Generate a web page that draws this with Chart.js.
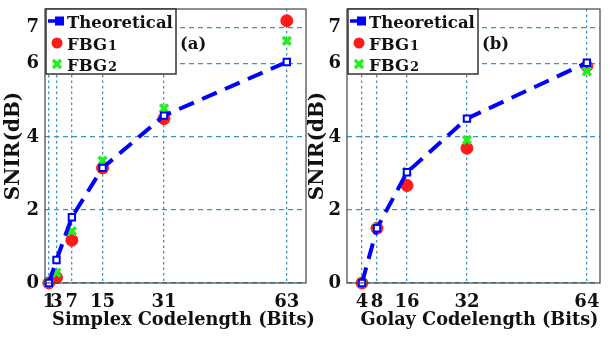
<!DOCTYPE html>
<html><head><meta charset="utf-8">
<script src="https://cdn.jsdelivr.net/npm/chart.js@4.4.0/dist/chart.umd.min.js"></script>
<style>
html,body{margin:0;padding:0;background:#fff;width:609px;height:337px;overflow:hidden;}
#wa{position:absolute;left:0;top:0;width:330px;height:337px;}
#wb{position:absolute;left:300px;top:0;width:309px;height:337px;}
canvas{display:block;}
</style></head><body>
<div id="wa"><canvas id="ca" width="330" height="337"></canvas></div>
<div id="wb"><canvas id="cb" width="309" height="337"></canvas></div>
<script>
// ---- data ----
const simplexLengths = [1, 3, 7, 15, 31, 63];
const simplexTheoretical = [0, 0.63, 1.8, 3.15, 4.58, 6.05];
const simplexFBG1 = [0, 0.15, 1.17, 3.15, 4.5, 7.18];
const simplexFBG2 = [0, 0.28, 1.42, 3.35, 4.78, 6.63];

const golayLengths = [4, 8, 16, 32, 64];
const golayTheoretical = [0, 1.5, 3.03, 4.5, 6.03];
const golayFBG1 = [0, 1.5, 2.67, 3.69, 5.94];
const golayFBG2 = [0, 1.52, 3.05, 3.92, 5.79];

const yTicks = [0, 2, 4, 6, 7];
const seriesNames = ['Theoretical', 'FBG', 'FBG'];
const seriesSub = ['', '1', '2'];

// ---- styles ----
const FONT = '"DejaVu Serif", "Liberation Serif", serif';
const GRID = '#3d93c4';
const BLUE = '#0000ff', RED = '#ff1a1a', GREEN = '#22ee22';

function pts(xs, ys) { return xs.map((x, i) => ({x: x, y: ys[i]})); }

function makeChart(id, cfg) {
  const boxPlugin = {
    id: 'box' + id,
    afterDatasetsDraw(chart) {
      const {ctx, chartArea: a} = chart;
      ctx.save();
      ctx.strokeStyle = '#444';
      ctx.lineWidth = 1.2;
      ctx.strokeRect(a.left, a.top, a.right - a.left, a.bottom - a.top);
      ctx.restore();
    },
    afterDraw(chart) {
      const {ctx, chartArea: a} = chart;
      ctx.save();
      const x0 = a.left + 1, y0 = a.top, w = 130, h = 65;
      ctx.fillStyle = '#fff';
      ctx.fillRect(x0, y0, w, h);
      ctx.strokeStyle = '#333';
      ctx.lineWidth = 1.5;
      ctx.strokeRect(x0, y0, w, h);
      const rows = [y0 + 12, y0 + 34, y0 + 55];
      const mx = x0 + 11;
      // theoretical
      ctx.strokeStyle = BLUE; ctx.lineWidth = 3.5;
      ctx.beginPath(); ctx.moveTo(x0 + 2, rows[0]); ctx.lineTo(x0 + 15, rows[0]); ctx.stroke();
      ctx.fillStyle = BLUE; ctx.fillRect(x0 + 9, rows[0] - 4.5, 9, 9);
      // FBG1
      ctx.fillStyle = RED; ctx.beginPath(); ctx.arc(mx, rows[1], 5.5, 0, Math.PI * 2); ctx.fill();
      // FBG2
      ctx.strokeStyle = GREEN; ctx.lineWidth = 3.5;
      ctx.beginPath();
      ctx.moveTo(mx - 4, rows[2] - 4); ctx.lineTo(mx + 4, rows[2] + 4);
      ctx.moveTo(mx + 4, rows[2] - 4); ctx.lineTo(mx - 4, rows[2] + 4);
      ctx.stroke();
      ctx.fillStyle = '#111';
      ctx.textBaseline = 'alphabetic';
      ctx.textAlign = 'left';
      for (let i = 0; i < 3; i++) {
        const by = rows[i] + 6.5;
        ctx.font = 'bold 16.5px ' + FONT;
        ctx.fillText(seriesNames[i], x0 + 21, by);
        if (seriesSub[i]) {
          const wd = ctx.measureText(seriesNames[i]).width;
          ctx.font = 'bold 13px ' + FONT;
          ctx.fillText(seriesSub[i], x0 + 21 + wd + 1, by);
        }
      }
      ctx.font = 'bold 16.5px ' + FONT;
      ctx.fillText(cfg.label, a.left + 135, y0 + 40);
      // x axis title (may extend past the plot width, as in the original)
      ctx.font = 'bold 20px ' + FONT;
      const tw = ctx.measureText(cfg.xTitle).width;
      const fs = Math.min(21, 20 * cfg.xTitleWidth / tw);
      ctx.font = 'bold ' + fs.toFixed(2) + 'px ' + FONT;
      ctx.textAlign = 'center';
      ctx.textBaseline = 'middle';
      ctx.fillText(cfg.xTitle, (a.left + a.right) / 2 + cfg.xTitleShift, 320);
      ctx.restore();
    }
  };

  return new Chart(document.getElementById(id), {
    type: 'line',
    data: {
      datasets: [
        {label: 'Theoretical', data: pts(cfg.xs, cfg.theo), borderColor: BLUE, borderWidth: 4,
         borderDash: [16, 9], pointStyle: 'rect', pointRadius: 4.5, pointBorderWidth: 2,
         pointBackgroundColor: '#fff', pointBorderColor: BLUE, order: 0, clip: false, tension: 0},
        {label: 'FBG1', data: pts(cfg.xs, cfg.f1), showLine: false, pointStyle: 'circle', pointRadius: 6,
         pointBackgroundColor: RED, pointBorderColor: RED, pointBorderWidth: 1, order: 2, clip: false},
        {label: 'FBG2', data: pts(cfg.xs, cfg.f2), showLine: false, pointStyle: 'crossRot', pointRadius: 5.5,
         pointBorderColor: GREEN, pointBorderWidth: 3.5, order: 1, clip: false}
      ]
    },
    options: {
      responsive: false, animation: false,
      layout: {padding: {left: 0, right: cfg.padRight, top: 8, bottom: 0}},
      plugins: {legend: {display: false}, tooltip: {enabled: false}},
      scales: {
        x: {
          type: 'linear', min: 0, max: cfg.xMax,
          afterBuildTicks(s) { s.ticks = cfg.xs.map(v => ({value: v})); },
          afterFit(s) { s.height = 54; s.paddingLeft = 0; s.paddingRight = 0; s.paddingTop = 0; s.paddingBottom = 0; },
          ticks: {autoSkip: false, maxRotation: 0, padding: 9, color: '#111',
                  font: {family: FONT, size: 18, weight: 'bold'}},
          grid: {color: GRID, lineWidth: 1.3, drawTicks: false},
          border: {display: false, dash: [2.5, 3]},
          title: {display: false}
        },
        y: {
          type: 'linear', min: 0, max: 7.5,
          afterBuildTicks(s) { s.ticks = yTicks.map(v => ({value: v})); },
          afterFit(s) { s.width = cfg.yWidth; s.paddingLeft = 0; s.paddingRight = 0; s.paddingTop = 0; s.paddingBottom = 0; },
          ticks: {padding: 6, color: '#111', font: {family: FONT, size: 18, weight: 'bold'}},
          grid: {color: GRID, lineWidth: 1.3, drawTicks: false},
          border: {display: false, dash: [5, 4]},
          title: {display: true, text: 'SNIR(dB)', color: '#111', padding: {top: cfg.yTitlePad, bottom: 0},
                  font: {family: FONT, size: 20, weight: 'bold'}}
        }
      }
    },
    plugins: [boxPlugin]
  });
}

makeChart('ca', {xs: simplexLengths, theo: simplexTheoretical, f1: simplexFBG1, f2: simplexFBG2,
  xMax: 68, xTitle: 'Simplex Codelength (Bits)', xTitleShift: 8, xTitleWidth: 263,
  label: '(a)', padRight: 24, yWidth: 45, yTitlePad: 2});
makeChart('cb', {xs: golayLengths, theo: golayTheoretical, f1: golayFBG1, f2: golayFBG2,
  xMax: 67.5, xTitle: 'Golay Codelength (Bits)', xTitleShift: 6, xTitleWidth: 238,
  label: '(b)', padRight: 5, yWidth: 47, yTitlePad: 6});
</script>
</body></html>
